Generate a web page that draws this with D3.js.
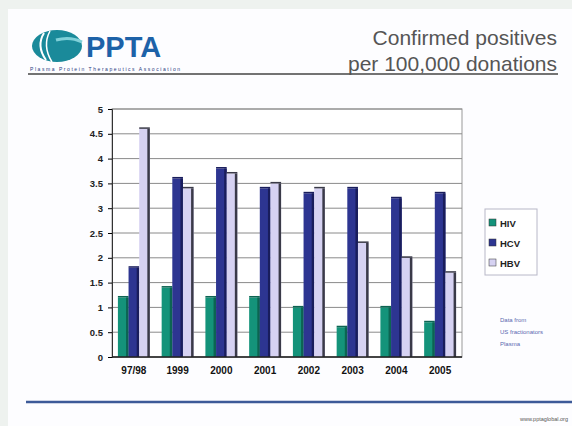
<!DOCTYPE html>
<html>
<head>
<meta charset="utf-8">
<script src="https://cdn.jsdelivr.net/npm/d3@7"></script>
<style>
  body { margin: 0; background: #eef2ef; }
  svg { display: block; }
</style>
</head>
<body>
<div id="chart"></div>
<script>
// data
const years = ["97/98", "1999", "2000", "2001", "2002", "2003", "2004", "2005"];
const seriesNames = ["HIV", "HCV", "HBV"];
const hiv = [1.2, 1.4, 1.2, 1.2, 1.0, 0.6, 1.0, 0.7];
const hcv = [1.8, 3.6, 3.8, 3.4, 3.3, 3.4, 3.2, 3.3];
const hbv = [4.6, 3.4, 3.7, 3.5, 3.4, 2.3, 2.0, 1.7];
const yTicks = [0, 0.5, 1, 1.5, 2, 2.5, 3, 3.5, 4, 4.5, 5];
const noteLines = ["Data from", "US fractionators", "Plasma"];

const W = 572, H = 426;
const colors = { HIV: "#14937a", HCV: "#2d3591", HBV: "#d6d2f2" };
const sides = { HIV: "#0c6452", HCV: "#191d5c", HBV: "#3a3a48" };

const svg = d3.select("#chart").append("svg")
  .attr("width", W).attr("height", H);

// slide
svg.append("rect").attr("x", 8).attr("y", 9).attr("width", W - 8).attr("height", H - 9)
  .attr("fill", "#fdfdff");

// logo
const logo = svg.append("g");
logo.append("ellipse").attr("cx", 57).attr("cy", 46).attr("rx", 25).attr("ry", 16)
  .attr("fill", "#1a8a9a");
logo.append("path").attr("d", "M44,33 Q36,46 46,60").attr("fill", "none")
  .attr("stroke", "#fff").attr("stroke-width", 2);
logo.append("path").attr("d", "M50,31 Q42,46 52,62").attr("fill", "none")
  .attr("stroke", "#fff").attr("stroke-width", 1.5);
logo.append("path").attr("d", "M56,40 Q70,36 82,42").attr("fill", "none")
  .attr("stroke", "#7fd0d8").attr("stroke-width", 3);
logo.append("text").attr("x", 86).attr("y", 57)
  .attr("font-family", "Arial, Liberation Sans, sans-serif").attr("font-weight", "bold")
  .attr("font-size", 29).attr("fill", "#1d62a8").text("PPTA");
logo.append("text").attr("x", 30).attr("y", 71)
  .attr("font-family", "Arial, Liberation Sans, sans-serif")
  .attr("font-size", 5).attr("fill", "#2a3a80").attr("textLength", 150)
  .text("Plasma Protein Therapeutics Association");
svg.append("line").attr("x1", 28).attr("x2", 558).attr("y1", 74).attr("y2", 74)
  .attr("stroke", "#444").attr("stroke-width", 1.5);

// title
const title = svg.append("text").attr("text-anchor", "end")
  .attr("font-family", "Arial, Liberation Sans, sans-serif")
  .attr("font-size", 21).attr("fill", "#555");
title.append("tspan").attr("x", 557).attr("y", 45).text("Confirmed positives");
title.append("tspan").attr("x", 557).attr("y", 71).text("per 100,000 donations");

// chart
const plot = { left: 112, right: 462, top: 109, bottom: 357 };
const x0 = d3.scaleBand().domain(years).range([plot.left, plot.right])
  .paddingInner(0.27).paddingOuter(0.135);
const x1 = d3.scaleBand().domain(seriesNames).range([0, x0.bandwidth()]);
const y = d3.scaleLinear().domain([0, 5]).range([plot.bottom, plot.top]);

const g = svg.append("g");
g.append("rect").attr("x", plot.left).attr("y", plot.top)
  .attr("width", plot.right - plot.left).attr("height", plot.bottom - plot.top)
  .attr("fill", "#fff").attr("stroke", "#999");

g.selectAll(".grid").data(yTicks).join("line")
  .attr("x1", plot.left).attr("x2", plot.right)
  .attr("y1", d => y(d)).attr("y2", d => y(d))
  .attr("stroke", "#8a8a8a").attr("stroke-width", 1);

const yAxis = g.append("g").attr("transform", `translate(${plot.left},0)`)
  .call(d3.axisLeft(y).tickValues(yTicks).tickSize(4).tickFormat(d3.format("")));
yAxis.select(".domain").attr("stroke", "#333");
yAxis.selectAll("text").attr("font-family", "Arial, Liberation Sans, sans-serif")
  .attr("font-weight", "bold").attr("font-size", 9.5).attr("fill", "#222").attr("dx", -2);

const rows = years.map((yr, i) => ({ yr, vals: [
  { s: "HIV", v: hiv[i] }, { s: "HCV", v: hcv[i] }, { s: "HBV", v: hbv[i] }] }));

const groups = g.selectAll(".grp").data(rows).join("g")
  .attr("transform", d => `translate(${x0(d.yr)},0)`);

const bars = groups.selectAll("g").data(d => d.vals).join("g");
bars.append("rect")
  .attr("x", d => x1(d.s)).attr("y", d => y(d.v))
  .attr("width", x1.bandwidth()).attr("height", d => y(0) - y(d.v))
  .attr("fill", d => colors[d.s]);
bars.append("rect")
  .attr("x", d => x1(d.s) + x1.bandwidth() - 2.5).attr("y", d => y(d.v))
  .attr("width", 2.5).attr("height", d => y(0) - y(d.v))
  .attr("fill", d => sides[d.s]);
bars.append("rect")
  .attr("x", d => x1(d.s)).attr("y", d => y(d.v) - 1.5)
  .attr("width", x1.bandwidth()).attr("height", 1.5)
  .attr("fill", d => sides[d.s]);

g.append("line").attr("x1", plot.left).attr("x2", plot.right)
  .attr("y1", plot.bottom).attr("y2", plot.bottom).attr("stroke", "#222").attr("stroke-width", 1.5);

const xAxis = g.append("g").attr("transform", `translate(0,${plot.bottom})`)
  .call(d3.axisBottom(x0).tickSize(0).tickPadding(10));
xAxis.select(".domain").remove();
xAxis.selectAll("text").attr("font-family", "Arial, Liberation Sans, sans-serif")
  .attr("font-weight", "bold").attr("font-size", 10).attr("fill", "#111");

// legend
const lg = svg.append("g");
lg.append("rect").attr("x", 485).attr("y", 209).attr("width", 52).attr("height", 66)
  .attr("fill", "#fff").attr("stroke", "#b8b8c8");
seriesNames.forEach((s, i) => {
  const cy = 223 + i * 20;
  lg.append("rect").attr("x", 489).attr("y", cy - 4).attr("width", 7).attr("height", 7)
    .attr("fill", colors[s]).attr("stroke", "#333").attr("stroke-width", 0.5);
  lg.append("text").attr("x", 500).attr("y", cy + 3.5)
    .attr("font-family", "Arial, Liberation Sans, sans-serif").attr("font-weight", "bold")
    .attr("font-size", 9.5).attr("fill", "#222").text(s);
});

// note
svg.append("g").selectAll("text").data(noteLines).join("text")
  .attr("x", 500).attr("y", (d, i) => 322 + i * 12)
  .attr("font-family", "Arial, Liberation Sans, sans-serif")
  .attr("font-size", 6).attr("fill", "#5a68b0").text(d => d);

// footer
svg.append("line").attr("x1", 26).attr("x2", 572).attr("y1", 402).attr("y2", 402)
  .attr("stroke", "#3d5a98").attr("stroke-width", 2.5);
svg.append("text").attr("x", 568).attr("y", 421).attr("text-anchor", "end")
  .attr("font-family", "Arial, Liberation Sans, sans-serif")
  .attr("font-size", 5.5).attr("fill", "#555").text("www.pptaglobal.org");
</script>
</body>
</html>
